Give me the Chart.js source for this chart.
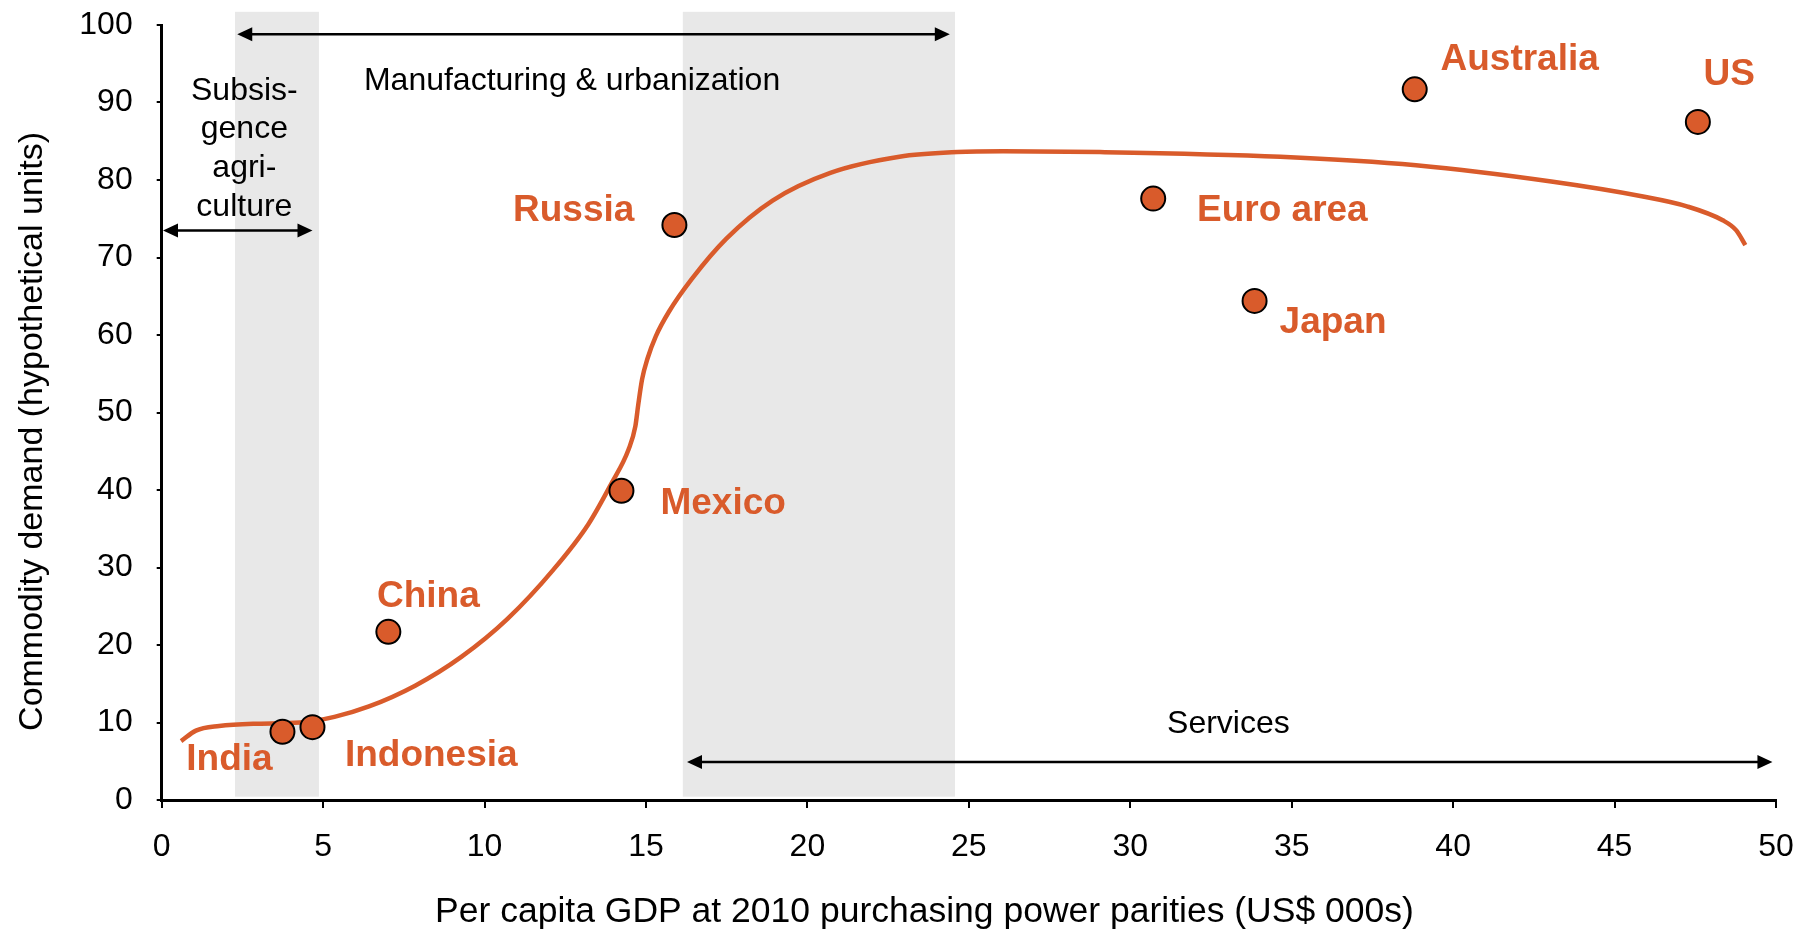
<!DOCTYPE html>
<html>
<head>
<meta charset="utf-8">
<script src="https://cdn.jsdelivr.net/npm/chart.js@4.4.1/dist/chart.umd.min.js"></script>
<style>
  body { margin: 0; background: #fff; }
  #wrap { width: 1808px; height: 930px; }
</style>
</head>
<body>
<div id="wrap"><canvas id="demand-chart"></canvas></div>
<script>
// countries (GDP per capita, US$ 000s / commodity demand)
const countries = ["India", "Indonesia", "China", "Mexico", "Russia", "Euro area", "Japan", "Australia", "US"];
const gdp = [3.74, 4.67, 7.02, 14.24, 15.88, 30.71, 33.85, 38.81, 47.58];
const demand = [8.8, 9.4, 21.7, 39.9, 74.2, 77.6, 64.4, 91.7, 87.5];

// the S-curve
const curveX = [0.6, 1.06, 1.78, 2.85, 4.28, 5.35, 6.42, 7.85, 9.28, 10.71, 12.14, 13.21, 13.92, 14.46, 14.67, 14.76,
  14.88, 15.05, 15.3, 15.71, 16.42, 17.49, 18.92, 20.71, 22.85, 24.64, 26.06, 29.06, 34.65, 38.85, 43.04, 45.84,
  47.24, 48.35, 48.77, 49.05];
const curveY = [7.6, 8.95, 9.55, 9.84, 9.99, 10.73, 12.07, 14.75, 18.46, 23.37, 29.76, 35.56, 40.77, 45.23, 48.2, 51.0,
  54.3, 57.0, 59.8, 63.0, 67.24, 72.44, 77.35, 80.92, 83.0, 83.6, 83.7, 83.6, 83.0, 81.9, 79.8, 77.9,
  76.6, 74.8, 73.5, 71.6];

// development stages
const bandStart = [2.27, 16.14];
const bandEnd = [4.87, 24.57];
const xTicks = [0, 5, 10, 15, 20, 25, 30, 35, 40, 45, 50];
const yTicks = [0, 10, 20, 30, 40, 50, 60, 70, 80, 90, 100];

const orange = "#D95B2B";
const font = "Liberation Sans, Arial, sans-serif";

// where the country names sit (data units)
const labelSpots = [[2.1, 5.16], [8.35, 5.75], [8.26, 26.2], [17.39, 38.2], [12.76, 76.0],
  [34.71, 76.0], [36.28, 61.6], [42.06, 95.5], [48.55, 93.6]];

// arrows: [x1, x2, y]
const arrows = [[2.34, 24.41, 98.8], [0.04, 4.67, 73.5], [16.27, 49.89, 4.9]];

const notes = [
  { lines: ["Subsis-", "gence", "agri-", "culture"], x: 2.56, y: 91.5 },
  { lines: ["Manufacturing & urbanization"], x: 12.71, y: 92.8 },
  { lines: ["Services"], x: 33.04, y: 9.8 },
];

const extras = {
  id: "extras",
  beforeDatasetsDraw(chart) {
    const { ctx, scales: { x, y } } = chart;
    ctx.save();
    ctx.fillStyle = "#E8E8E8";
    for (let i = 0; i < bandStart.length; i++) {
      const x1 = x.getPixelForValue(bandStart[i]);
      const x2 = x.getPixelForValue(bandEnd[i]);
      const top = y.getPixelForValue(101.7);
      const bot = y.getPixelForValue(0.43);
      ctx.fillRect(x1, top, x2 - x1, bot - top);
    }
    ctx.restore();
  },
  afterDatasetsDraw(chart) {
    const { ctx, scales: { x, y } } = chart;
    ctx.save();
    // arrows
    ctx.strokeStyle = "#000";
    ctx.fillStyle = "#000";
    ctx.lineWidth = 2.5;
    const head = 15, half = 7;
    arrows.forEach(([a, b, v]) => {
      const x1 = x.getPixelForValue(a);
      const x2 = x.getPixelForValue(b);
      const py = y.getPixelForValue(v);
      ctx.beginPath();
      ctx.moveTo(x1 + head - 2, py);
      ctx.lineTo(x2 - head + 2, py);
      ctx.stroke();
      ctx.beginPath();
      ctx.moveTo(x1, py);
      ctx.lineTo(x1 + head, py - half);
      ctx.lineTo(x1 + head, py + half);
      ctx.closePath();
      ctx.fill();
      ctx.beginPath();
      ctx.moveTo(x2, py);
      ctx.lineTo(x2 - head, py - half);
      ctx.lineTo(x2 - head, py + half);
      ctx.closePath();
      ctx.fill();
    });
    // stage notes
    ctx.font = "32px " + font;
    ctx.textAlign = "center";
    ctx.textBaseline = "middle";
    notes.forEach((n) => {
      const px = x.getPixelForValue(n.x);
      const py = y.getPixelForValue(n.y);
      n.lines.forEach((t, i) => ctx.fillText(t, px, py + i * 38.7));
    });
    // country names
    ctx.font = "bold 37px " + font;
    ctx.fillStyle = orange;
    countries.forEach((c, i) => {
      ctx.fillText(c, x.getPixelForValue(labelSpots[i][0]), y.getPixelForValue(labelSpots[i][1]));
    });
    ctx.restore();
  },
};

new Chart(document.getElementById("demand-chart"), {
  type: "scatter",
  data: {
    datasets: [
      {
        label: "Countries",
        data: gdp.map((g, i) => ({ x: g, y: demand[i] })),
        backgroundColor: orange,
        borderColor: "#000",
        borderWidth: 2,
        pointRadius: 12,
        order: 0,
      },
      {
        label: "Curve",
        data: curveX.map((g, i) => ({ x: g, y: curveY[i] })),
        showLine: true,
        borderColor: orange,
        borderWidth: 4.5,
        pointRadius: 0,
        cubicInterpolationMode: "monotone",
        order: 1,
      },
    ],
  },
  options: {
    responsive: true,
    maintainAspectRatio: false,
    animation: false,
    layout: { padding: { top: 25, right: 32, bottom: 0, left: 0 } },
    plugins: { legend: { display: false }, tooltip: { enabled: false } },
    scales: {
      x: {
        type: "linear",
        min: 0,
        max: 50,
        afterBuildTicks: (s) => { s.ticks = xTicks.map((v) => ({ value: v })); },
        afterFit: (s) => {
          s.height = 130;
          s.paddingLeft = 0;
          s.paddingRight = 0;
        },
        ticks: { color: "#000", font: { family: font, size: 32 }, padding: 20 },
        grid: { drawOnChartArea: false, color: "#000", lineWidth: 2, tickLength: 8 },
        border: { color: "#000", width: 3 },
        title: {
          display: true,
          text: "Per capita GDP at 2010 purchasing power parities (US$ 000s)         ",
          color: "#000",
          font: { family: font, size: 35.5 },
          padding: { top: 0, bottom: -4 },
        },
      },
      y: {
        min: 0,
        max: 100,
        afterBuildTicks: (s) => { s.ticks = yTicks.map((v) => ({ value: v })); },
        afterFit: (s) => {
          s.width = 161.7;
          s.paddingTop = 0;
          s.paddingBottom = 0;
        },
        ticks: { color: "#000", font: { family: font, size: 32 }, padding: 24 },
        grid: { drawOnChartArea: false, color: "#000", lineWidth: 2, tickLength: 5 },
        border: { color: "#000", width: 3 },
        title: {
          display: true,
          text: "Commodity demand (hypothetical units)    ",
          color: "#000",
          font: { family: font, size: 34 },
          padding: { top: 12, bottom: 0 },
        },
      },
    },
  },
  plugins: [extras],
});
</script>
</body>
</html>
